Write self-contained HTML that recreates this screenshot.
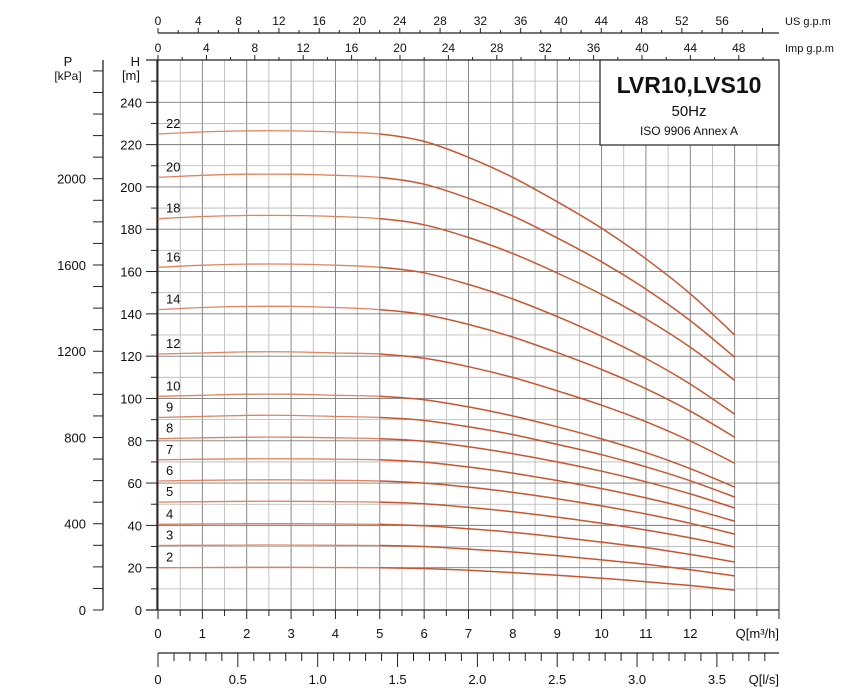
<!DOCTYPE html>
<html><head><meta charset="utf-8">
<style>
html,body{margin:0;padding:0;background:#fff;}
svg{display:block;font-family:"Liberation Sans",sans-serif;}
</style></head>
<body>
<svg id="chart" width="847" height="700" viewBox="0 0 847 700" xmlns="http://www.w3.org/2000/svg">
  <g id="grid"></g>
  <g id="axes"></g>
  <g id="curves"></g>
  <g>
    <rect x="600" y="60" width="179" height="85" fill="#fff" stroke="#222" stroke-width="1.2"/>
    <text x="689" y="93" text-anchor="middle" font-size="23" font-weight="bold" fill="#111">LVR10,LVS10</text>
    <text x="689" y="116" text-anchor="middle" font-size="15" fill="#111">50Hz</text>
    <text x="689" y="135" text-anchor="middle" font-size="12" fill="#111">ISO 9906 Annex A</text>
  </g>
</svg>
<script>
const flowQ = [0,1,2,3,4,5,6,7,8,9,10,11,12,13];
const stageLabels = ["22","20","18","16","14","12","10","9","8","7","6","5","4","3","2"];
const h22 = [225,226,226.5,226.5,226,225,221.5,214,204.5,193,180.5,166,149.5,130];
const h20 = [204.5,205.5,206,206,205.5,204.5,201.3,194.6,186.2,175.9,164.6,151.7,136.8,119.5];
const h18 = [185,186,186.5,186.5,186,185,182.1,176.1,168.5,159.3,149.2,137.6,124.2,108.6];
const h16 = [162,163,163.5,163.5,163,162,159.4,153.9,147,138.7,129.4,118.9,106.8,92.6];
const h14 = [142,143,143.5,143.5,143,142,139.7,135,129,121.7,113.7,104.6,94,81.7];
const h12 = [121,121.5,122,122,121.5,121,119,115,109.9,103.6,96.8,89,79.9,69.4];
const h10 = [101,101.5,102,102,101.5,101,99.4,96,91.7,86.6,80.9,74.4,66.8,58.1];
const h9 = [91,91.5,92,92,91.5,91,89.6,86.6,82.9,78.3,73.4,67.7,61.1,53.4];
const h8 = [81,81.4,81.7,81.7,81.4,81,79.8,77.2,73.9,70,65.6,60.6,54.9,48.2];
const h7 = [71,71.3,71.5,71.5,71.3,71,69.9,67.6,64.7,61.2,57.4,53,47.9,42];
const h6 = [61,61.3,61.5,61.5,61.3,61,60,58.1,55.6,52.6,49.2,45.4,41,35.9];
const h5 = [51,51.2,51.4,51.4,51.2,51,50.2,48.5,46.4,43.9,41,37.8,34.1,29.8];
const h4 = [40.5,40.7,40.8,40.8,40.7,40.5,39.8,38.4,36.7,34.5,32.1,29.5,26.3,22.7];
const h3 = [30.5,30.6,30.7,30.7,30.6,30.5,30,28.8,27.4,25.7,23.7,21.6,19,16.1];
const h2 = [20,20.1,20.2,20.2,20.1,20,19.6,18.8,17.7,16.4,15,13.4,11.6,9.4];
const seriesList = [h22,h20,h18,h16,h14,h12,h10,h9,h8,h7,h6,h5,h4,h3,h2];
const qTickLabels = ["0","1","2","3","4","5","6","7","8","9","10","11","12"];
const hTickLabels = ["0","20","40","60","80","100","120","140","160","180","200","220","240"];
const pTickLabels = ["0","400","800","1200","1600","2000"];
const lsTickLabels = ["0","0.5","1.0","1.5","2.0","2.5","3.0","3.5"];
const usTickLabels = ["0","4","8","12","16","20","24","28","32","36","40","44","48","52","56"];
const impTickLabels = ["0","4","8","12","16","20","24","28","32","36","40","44","48"];

const NS="http://www.w3.org/2000/svg";
const X0=158,X1=779,QMAX=14,Y0=610,Y1=60,HMAX=260;
const xs=q=>X0+(X1-X0)*q/QMAX;
const ys=h=>Y0-(Y0-Y1)*h/HMAX;
const yP=kpa=>ys(kpa/9.81);
const xUS=g=>xs(g/4.403);
const xImp=g=>xs(g/3.666);
const xLs=l=>xs(l*3.6);
function mk(tag,attrs,parent){const e=document.createElementNS(NS,tag);for(const k in attrs)e.setAttribute(k,attrs[k]);parent.appendChild(e);return e;}
const grid=document.getElementById('grid'),axes=document.getElementById('axes'),curves=document.getElementById('curves');

for(let i=0;i<=QMAX*2;i++){const q=i/2;const major=i%2===0;
  const l=mk('line',{x1:xs(q),x2:xs(q),y1:Y1,y2:Y0,stroke:major?'#7a7a7a':'#b5b5b5','stroke-width':major?0.9:0.8},grid);
  
  }
for(let h=10;h<HMAX;h+=10){const major=h%20===0;
  const l=mk('line',{x1:X0,x2:X1,y1:ys(h),y2:ys(h),stroke:major?'#7a7a7a':'#b5b5b5','stroke-width':major?0.9:0.8},grid);
  
  }
const frame=mk('rect',{x:X0,y:Y1,width:X1-X0,height:Y0-Y1,fill:'none',stroke:'#333','stroke-width':1},grid);



function txt(s,x,y,anchor,size,name){const t=mk('text',{x:x,y:y,'text-anchor':anchor,'font-size':size,fill:'#111'},axes);t.textContent=s;
  
  return t;}
function ln(x1,y1,x2,y2,w,name){const l=mk('line',{x1:x1,y1:y1,x2:x2,y2:y2,stroke:'#222','stroke-width':w||1},axes);
  
  return l;}

ln(146,Y0,X1,Y0,1.3,'x-axis-line');
for(let i=0;i<=QMAX*2;i++){ln(xs(i/2),Y0,xs(i/2),Y0+(i%2?6:9),1,'x-axis-tick');}
qTickLabels.forEach(s=>txt(s,xs(+s),638,'middle',13,'x-axis-label'));
txt('Q[m³/h]',X1,638,'end',13,'x-axis-title');

ln(X0,653,X1,653,1.3,'ls-axis-line');
for(let i=0;i<=38;i++){const l=i/10;ln(xLs(l),653,xLs(l),653+(i%5===0?14:8),1,'ls-axis-tick');}
lsTickLabels.forEach(s=>txt(s,xLs(+s),684,'middle',13,'ls-axis-label'));
txt('Q[l/s]',X1,684,'end',13,'ls-axis-title');

ln(X0-1,Y1,X0-1,Y0,1.3,'h-axis-line');
for(let h=0;h<=HMAX;h+=10){ln(h%20===0?146:151,ys(h),X0,ys(h),1,'h-axis-tick');}
hTickLabels.forEach(s=>txt(s,142,ys(+s)+5,'end',13,'h-axis-label'));
txt('H',140,66,'end',13,'h-axis-title');
txt('[m]',140,80,'end',13,'h-axis-unit');

ln(103,Y1,103,Y0,1.3,'p-axis-line');
for(let p=0;p<=2500;p+=100){if(yP(p)<Y1)break;ln(93,yP(p),103,yP(p),1,'p-axis-tick');}
pTickLabels.forEach(s=>txt(s,86,yP(+s)+5,'end',13,'p-axis-label'));
txt('P',68,66,'middle',13,'p-axis-title');
txt('[kPa]',68,80,'middle',12,'p-axis-unit');

ln(X0,33,X1,33,1.2,'us-gpm-axis-line');
for(let g=0;g<=60;g+=2){ln(xUS(g),33,xUS(g),g%4===0?28:30,1,'us-gpm-tick');}
usTickLabels.forEach(s=>txt(s,xUS(+s),25,'middle',12,'us-gpm-label'));
txt('US g.p.m',785,25,'start',11,'us-gpm-title');
ln(146,Y1,X1,Y1,1.3,'imp-gpm-axis-line');
for(let g=0;g<=50;g+=2){ln(xImp(g),Y1,xImp(g),g%4===0?55:57,1,'imp-gpm-tick');}
impTickLabels.forEach(s=>txt(s,xImp(+s),52,'middle',12,'imp-gpm-label'));
txt('Imp g.p.m',785,52,'start',11,'imp-gpm-title');

function pathFor(vals,i0,i1){const all=flowQ.map((q,i)=>[xs(q),ys(vals[i])]);const n=all.length;
  let d='M'+all[i0][0].toFixed(1)+','+all[i0][1].toFixed(1);
  for(let i=i0;i<i1;i++){const p0=all[Math.max(0,i-1)],p1=all[i],p2=all[i+1],p3=all[Math.min(n-1,i+2)];
    const c1=[p1[0]+(p2[0]-p0[0])/6,p1[1]+(p2[1]-p0[1])/6],c2=[p2[0]-(p3[0]-p1[0])/6,p2[1]-(p3[1]-p1[1])/6];
    d+=' C'+c1[0].toFixed(1)+','+c1[1].toFixed(1)+' '+c2[0].toFixed(1)+','+c2[1].toFixed(1)+' '+p2[0].toFixed(1)+','+p2[1].toFixed(1);}
  return d;}
seriesList.forEach((vals,k)=>{
  const g=mk('g',{},curves);
  
  
  const a=mk('path',{d:pathFor(vals,0,5),fill:'none',stroke:'#e0845f','stroke-width':1.3},g);
  
  
  const b=mk('path',{d:pathFor(vals,5,13),fill:'none',stroke:'#c95530','stroke-width':1.5},g);
  
  
  const t=mk('text',{x:166,y:ys(vals[0])-6,'font-size':13,fill:'#111'},g);t.textContent=stageLabels[k];
  
  
});
</script>
</body></html>
